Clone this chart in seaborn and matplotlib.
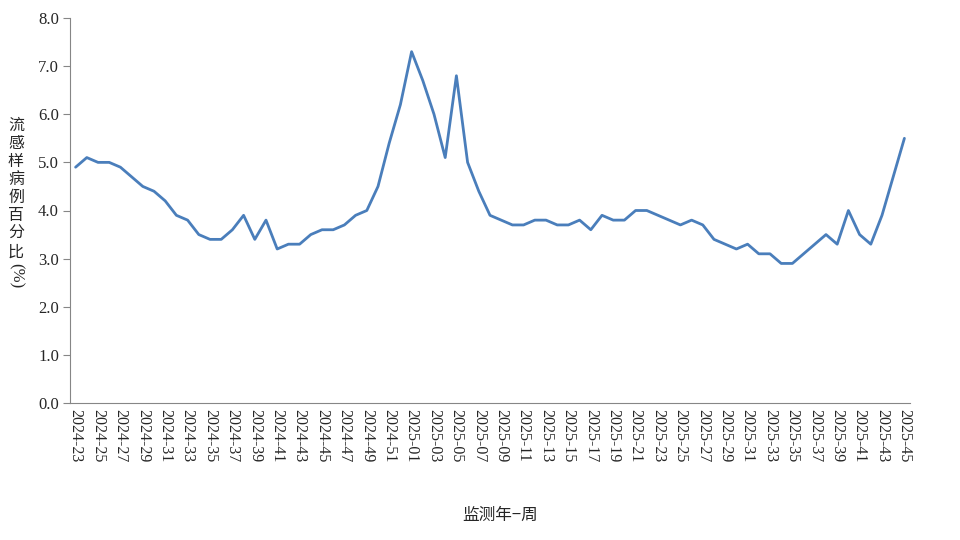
import numpy as np
import pandas as pd
import seaborn as sns
import matplotlib.pyplot as plt

# 监测周
weeks_2024 = [f"2024-{w:02d}" for w in range(23, 53)]
weeks_2025 = [f"2025-{w:02d}" for w in range(1, 46)]
weeks = weeks_2024 + weeks_2025

# 流感样病例百分比 (%)
ili_2024 = [4.9, 5.1, 5.0, 5.0, 4.9, 4.7, 4.5, 4.4, 4.2, 3.9,
            3.8, 3.5, 3.4, 3.4, 3.6, 3.9, 3.4, 3.8, 3.2, 3.3,
            3.3, 3.5, 3.6, 3.6, 3.7, 3.9, 4.0, 4.5, 5.4, 6.2]
ili_2025 = [7.3, 6.7, 6.0, 5.1, 6.8, 5.0, 4.4, 3.9, 3.8, 3.7,
            3.7, 3.8, 3.8, 3.7, 3.7, 3.8, 3.6, 3.9, 3.8, 3.8,
            4.0, 4.0, 3.9, 3.8, 3.7, 3.8, 3.7, 3.4, 3.3, 3.2,
            3.3, 3.1, 3.1, 2.9, 2.9, 3.1, 3.3, 3.5, 3.3, 4.0,
            3.5, 3.3, 3.9, 4.7, 5.5]
ili = ili_2024 + ili_2025

df = pd.DataFrame({"pos": range(len(weeks)), "week": weeks, "ili": ili})

sns.set_style("white")
plt.rcParams['font.family'] = ['serif', 'Noto Sans CJK SC']
plt.rcParams['font.serif'] = ['Liberation Serif', 'DejaVu Serif']

fig = plt.figure(figsize=(9.6, 5.4), dpi=100)
ax = fig.add_axes([70 / 960, 1 - 403 / 540, 840 / 960, 385 / 540])

sns.lineplot(data=df, x="pos", y="ili", color="#4a7ebb", linewidth=2, ax=ax)

ax.set_xlim(-0.5, len(weeks) - 0.5)
ax.set_ylim(0, 8)
yt = np.arange(0, 8.1, 1.0)
ax.set_yticks(yt)
ax.set_yticklabels([f"{v:.1f}" for v in yt], fontsize=12, fontfamily="Liberation Serif")

ax.set_xticks(df["pos"][::2])
ax.set_xticklabels(df["week"][::2], rotation=270, fontsize=11.5, fontfamily="Liberation Serif")
ax.set_xticks(np.arange(-0.5, len(weeks), 1.0), minor=True)
ax.tick_params(axis="x", which="major", length=0, pad=4)
ax.tick_params(axis="x", which="minor", length=5, direction="out", color="#868686", width=0.8)
ax.tick_params(axis="y", length=5, direction="out", color="#868686", width=0.8, pad=3, left=True)

for s in ["top", "right"]:
    ax.spines[s].set_visible(False)
for s in ["left", "bottom"]:
    ax.spines[s].set_color("#868686")
    ax.spines[s].set_linewidth(0.8)

ax.set_xlabel("")
ax.set_ylabel("")

# 纵向排列的坐标轴标题
fig.text(16 / 960, 1 - 117 / 540, "流\n感\n样\n病\n例\n百\n分\n比", fontsize=11.5,
         ha="center", va="top", linespacing=1.08, family=['Noto Sans CJK SC'])
fig.text(16 / 960, 1 - 276 / 540, "(%)", fontsize=12, rotation=270,
         ha="center", va="center", family=['Liberation Serif'])
fig.text(500 / 960, 1 - 515 / 540, "监测年−周", fontsize=12, ha="center", va="center",
         family=['Noto Sans CJK SC', 'DejaVu Sans'])

fig.savefig("out.png", dpi=100)
